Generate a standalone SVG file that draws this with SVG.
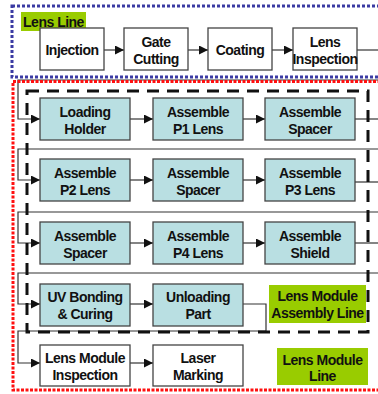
<svg xmlns="http://www.w3.org/2000/svg" width="378" height="394" viewBox="0 0 378 394">
<defs>
<marker id="ah" viewBox="0 0 9 9" refX="9" refY="4.5" markerWidth="9" markerHeight="9" markerUnits="userSpaceOnUse" orient="auto">
<path d="M0,0 L9,4.5 L0,9 z" fill="#111"/>
</marker>
<style>
.box{fill:#fff;stroke:#444;stroke-width:1.3}
.bb{fill:#b9dfe2;stroke:#444;stroke-width:1.3}
.t{font-family:"Liberation Sans",Arial,sans-serif;font-size:14px;font-weight:bold;letter-spacing:-0.5px;text-anchor:middle;fill:#111}
.c{fill:none;stroke:#333;stroke-width:1.2}
.a{marker-end:url(#ah)}
.lbl{fill:#99cc00}
</style>
</defs>
<rect width="378" height="394" fill="#fff"/>
<g id="connectors">
<path class="c" d="M357,50 H385"/>
<path class="c a" d="M385,80 H18 V119 H40"/>
<path class="c a" d="M104,50 H124"/>
<path class="c a" d="M188,50 H208"/>
<path class="c a" d="M272,50 H293"/>
<path class="c a" d="M130,119 H153"/>
<path class="c a" d="M243,119 H265"/>
<path class="c" d="M355,119 H385"/>
<path class="c a" d="M385,149 H18 V180 H40"/>
<path class="c a" d="M130,180 H153"/>
<path class="c a" d="M243,180 H265"/>
<path class="c" d="M355,182 H385"/>
<path class="c a" d="M385,212 H18 V243 H40"/>
<path class="c a" d="M130,243 H153"/>
<path class="c a" d="M243,243 H265"/>
<path class="c" d="M355,243 H385"/>
<path class="c a" d="M385,273 H18 V304 H40"/>
<path class="c a" d="M130,304 H153"/>
<path class="c a" d="M243,304 H266 V331 H18 V363 H40"/>
<path class="c a" d="M130,363 H153"/>
</g>
<g id="lens-line-frame">
<rect x="12" y="6" width="380" height="71" fill="none" stroke="#3b3ba3" stroke-width="3" stroke-dasharray="3 2"/>
</g>
<g id="lens-module-line-frame">
<rect x="13" y="81.5" width="380" height="308.5" fill="none" stroke="#ff1010" stroke-width="3" stroke-dasharray="3 1.5"/>
</g>
<g id="assembly-line-frame">
<rect x="27" y="91" width="341" height="241" fill="none" stroke="#111" stroke-width="3" stroke-dasharray="12 8"/>
</g>
<g id="label-lens-line">
<rect class="lbl" x="21" y="12" width="65" height="19"/>
<text class="t" x="53.5" y="27">Lens Line</text>
</g>
<g id="injection"><rect class="box" x="40" y="28" width="64" height="42"/><text class="t" x="72" y="55">Injection</text></g>
<g id="gate-cutting"><rect class="box" x="124" y="28" width="64" height="42"/><text class="t" x="156" y="46.5">Gate</text><text class="t" x="156" y="63.5">Cutting</text></g>
<g id="coating"><rect class="box" x="208" y="28" width="64" height="42"/><text class="t" x="240" y="55">Coating</text></g>
<g id="lens-inspection"><rect class="box" x="293" y="28" width="64" height="42"/><text class="t" x="325" y="46.5">Lens</text><text class="t" x="325" y="63.5">Inspection</text></g>

<g id="loading-holder"><rect class="bb" x="40" y="98" width="90" height="42"/><text class="t" x="85" y="116.5">Loading</text><text class="t" x="85" y="133.5">Holder</text></g>
<g id="assemble-p1"><rect class="bb" x="153" y="98" width="90" height="42"/><text class="t" x="198" y="116.5">Assemble</text><text class="t" x="198" y="133.5">P1 Lens</text></g>
<g id="assemble-spacer-1"><rect class="bb" x="265" y="98" width="90" height="42"/><text class="t" x="310" y="116.5">Assemble</text><text class="t" x="310" y="133.5">Spacer</text></g>

<g id="assemble-p2"><rect class="bb" x="40" y="159" width="90" height="42"/><text class="t" x="85" y="177.5">Assemble</text><text class="t" x="85" y="194.5">P2 Lens</text></g>
<g id="assemble-spacer-2"><rect class="bb" x="153" y="159" width="90" height="42"/><text class="t" x="198" y="177.5">Assemble</text><text class="t" x="198" y="194.5">Spacer</text></g>
<g id="assemble-p3"><rect class="bb" x="265" y="159" width="90" height="42"/><text class="t" x="310" y="177.5">Assemble</text><text class="t" x="310" y="194.5">P3 Lens</text></g>

<g id="assemble-spacer-3"><rect class="bb" x="40" y="222" width="90" height="42"/><text class="t" x="85" y="240.5">Assemble</text><text class="t" x="85" y="257.5">Spacer</text></g>
<g id="assemble-p4"><rect class="bb" x="153" y="222" width="90" height="42"/><text class="t" x="198" y="240.5">Assemble</text><text class="t" x="198" y="257.5">P4 Lens</text></g>
<g id="assemble-shield"><rect class="bb" x="265" y="222" width="90" height="42"/><text class="t" x="310" y="240.5">Assemble</text><text class="t" x="310" y="257.5">Shield</text></g>

<g id="uv-bonding"><rect class="bb" x="40" y="284" width="90" height="42"/><text class="t" x="85" y="301.5">UV Bonding</text><text class="t" x="85" y="318.5">&amp; Curing</text></g>
<g id="unloading-part"><rect class="bb" x="153" y="284" width="90" height="42"/><text class="t" x="198" y="301.5">Unloading</text><text class="t" x="198" y="318.5">Part</text></g>

<g id="label-assembly-line">
<rect class="lbl" x="269" y="285" width="97" height="38"/>
<text class="t" x="317.5" y="300.5">Lens Module</text><text class="t" x="317.5" y="317.5">Assembly Line</text>
</g>

<g id="lens-module-inspection"><rect class="box" x="40" y="345" width="90" height="41"/><text class="t" x="85" y="362.5">Lens Module</text><text class="t" x="85" y="379.5">Inspection</text></g>
<g id="laser-marking"><rect class="box" x="153" y="345" width="90" height="41"/><text class="t" x="198" y="362.5">Laser</text><text class="t" x="198" y="379.5">Marking</text></g>

<g id="label-module-line">
<rect class="lbl" x="277" y="348" width="91" height="37"/>
<text class="t" x="322.5" y="364.5">Lens Module</text><text class="t" x="322.5" y="380.5">Line</text>
</g>
</svg>
